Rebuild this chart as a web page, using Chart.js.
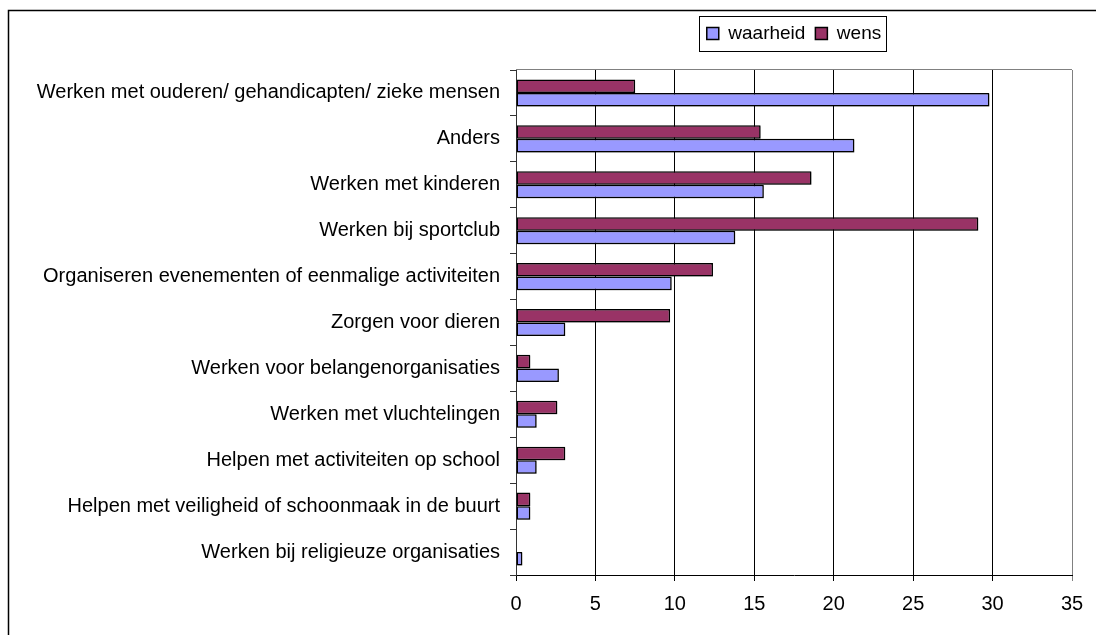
<!DOCTYPE html>
<html>
<head>
<meta charset="utf-8">
<script src="https://cdn.jsdelivr.net/npm/chart.js@4/dist/chart.umd.min.js"></script>
<style>
  body { margin: 0; background: #fff; }
  #wrap { width: 1096px; height: 635px; }
</style>
</head>
<body>
<div id="wrap"><canvas id="chart" width="1096" height="635"></canvas></div>
<script>
const categories = [
  'Werken met ouderen/ gehandicapten/ zieke mensen',
  'Anders',
  'Werken met kinderen',
  'Werken bij sportclub',
  'Organiseren evenementen of eenmalige activiteiten',
  'Zorgen voor dieren',
  'Werken voor belangenorganisaties',
  'Werken met vluchtelingen',
  'Helpen met activiteiten op school',
  'Helpen met veiligheid of schoonmaak in de buurt',
  'Werken bij religieuze organisaties'
]
const waarheid = [29.8, 21.3, 15.6, 13.8, 9.8, 3.1, 2.7, 1.3, 1.3, 0.9, 0.4]
const wens = [7.5, 15.4, 18.6, 29.1, 12.4, 9.7, 0.9, 2.6, 3.1, 0.9, 0]

const waarheidColor = '#9999FF'
const wensColor = '#993366'
const fontFamily = "'Liberation Sans', Arial, sans-serif"

// legend frame sits top-right, not centred like chart.js would do
const legendBox = { left: 699, top: 16, right: 886, bottom: 51 }

const framePlugin = {
  id: 'frame',
  beforeDraw(chart) {
    const lg = chart.legend
    lg.left = 693
    lg.right = 895
    lg.width = lg.right - lg.left
    lg.top = 14
    lg.bottom = 60
  },
  beforeDatasetsDraw(chart) {
    const ctx = chart.ctx
    ctx.save()
    ctx.shadowColor = 'rgba(0,0,0,0.3)'
    ctx.shadowOffsetX = 1
    ctx.shadowOffsetY = 1
    ctx.shadowBlur = 0
  },
  afterDatasetsDraw(chart) {
    chart.ctx.restore()
  },
  afterDraw(chart) {
    const ctx = chart.ctx
    const a = chart.chartArea
    ctx.save()
    // plot area top edge
    ctx.strokeStyle = '#808080'
    ctx.lineWidth = 1
    ctx.beginPath()
    ctx.moveTo(a.left, Math.round(a.top) - 0.5)
    ctx.lineTo(a.right, Math.round(a.top) - 0.5)
    ctx.stroke()
    // legend frame
    ctx.strokeStyle = '#000'
    ctx.strokeRect(legendBox.left + 0.5, legendBox.top + 0.5,
      legendBox.right - legendBox.left, legendBox.bottom - legendBox.top)
    // outer chart frame
    ctx.lineWidth = 1.5
    ctx.strokeRect(8.5, 10.5, 1200, 700)
    ctx.restore()
  }
}

const ctx = document.getElementById('chart')
new Chart(ctx, {
  type: 'bar',
  data: {
    labels: categories,
    datasets: [
      {
        label: 'wens',
        data: wens,
        backgroundColor: wensColor,
        borderColor: '#000',
        borderWidth: 1.5,
        borderSkipped: false
      },
      {
        label: 'waarheid',
        data: waarheid,
        backgroundColor: waarheidColor,
        borderColor: '#000',
        borderWidth: 1.5,
        borderSkipped: false
      }
    ]
  },
  options: {
    indexAxis: 'y',
    responsive: false,
    animation: false,
    events: [],
    datasets: {
      bar: { categoryPercentage: 0.59, barPercentage: 1 }
    },
    layout: { padding: { top: 31, right: 24, bottom: 0, left: 0 } },
    scales: {
      x: {
        min: 0,
        max: 35,
        ticks: {
          stepSize: 5,
          color: '#000',
          padding: 11,
          font: { family: fontFamily, size: 20 }
        },
        grid: {
          color: (c) => c.tick && c.tick.value === 35 ? '#808080' : '#000',
          lineWidth: 1,
          tickLength: 6
        },
        border: { color: '#000', width: 1 },
        afterFit(scale) { scale.height = 60 }
      },
      y: {
        ticks: {
          color: '#000',
          padding: 10,
          autoSkip: false,
          font: { family: fontFamily, size: 20 }
        },
        grid: {
          drawOnChartArea: false,
          color: '#333',
          tickLength: 6
        },
        border: { color: '#333', width: 1 },
        afterFit(scale) { scale.width = 516 }
      }
    },
    plugins: {
      legend: {
        position: 'top',
        reverse: true,
        labels: {
          boxWidth: 12,
          boxHeight: 12,
          padding: 10,
          color: '#000',
          font: { family: fontFamily, size: 19 }
        }
      },
      tooltip: { enabled: false }
    }
  },
  plugins: [framePlugin]
})
</script>
</body>
</html>
